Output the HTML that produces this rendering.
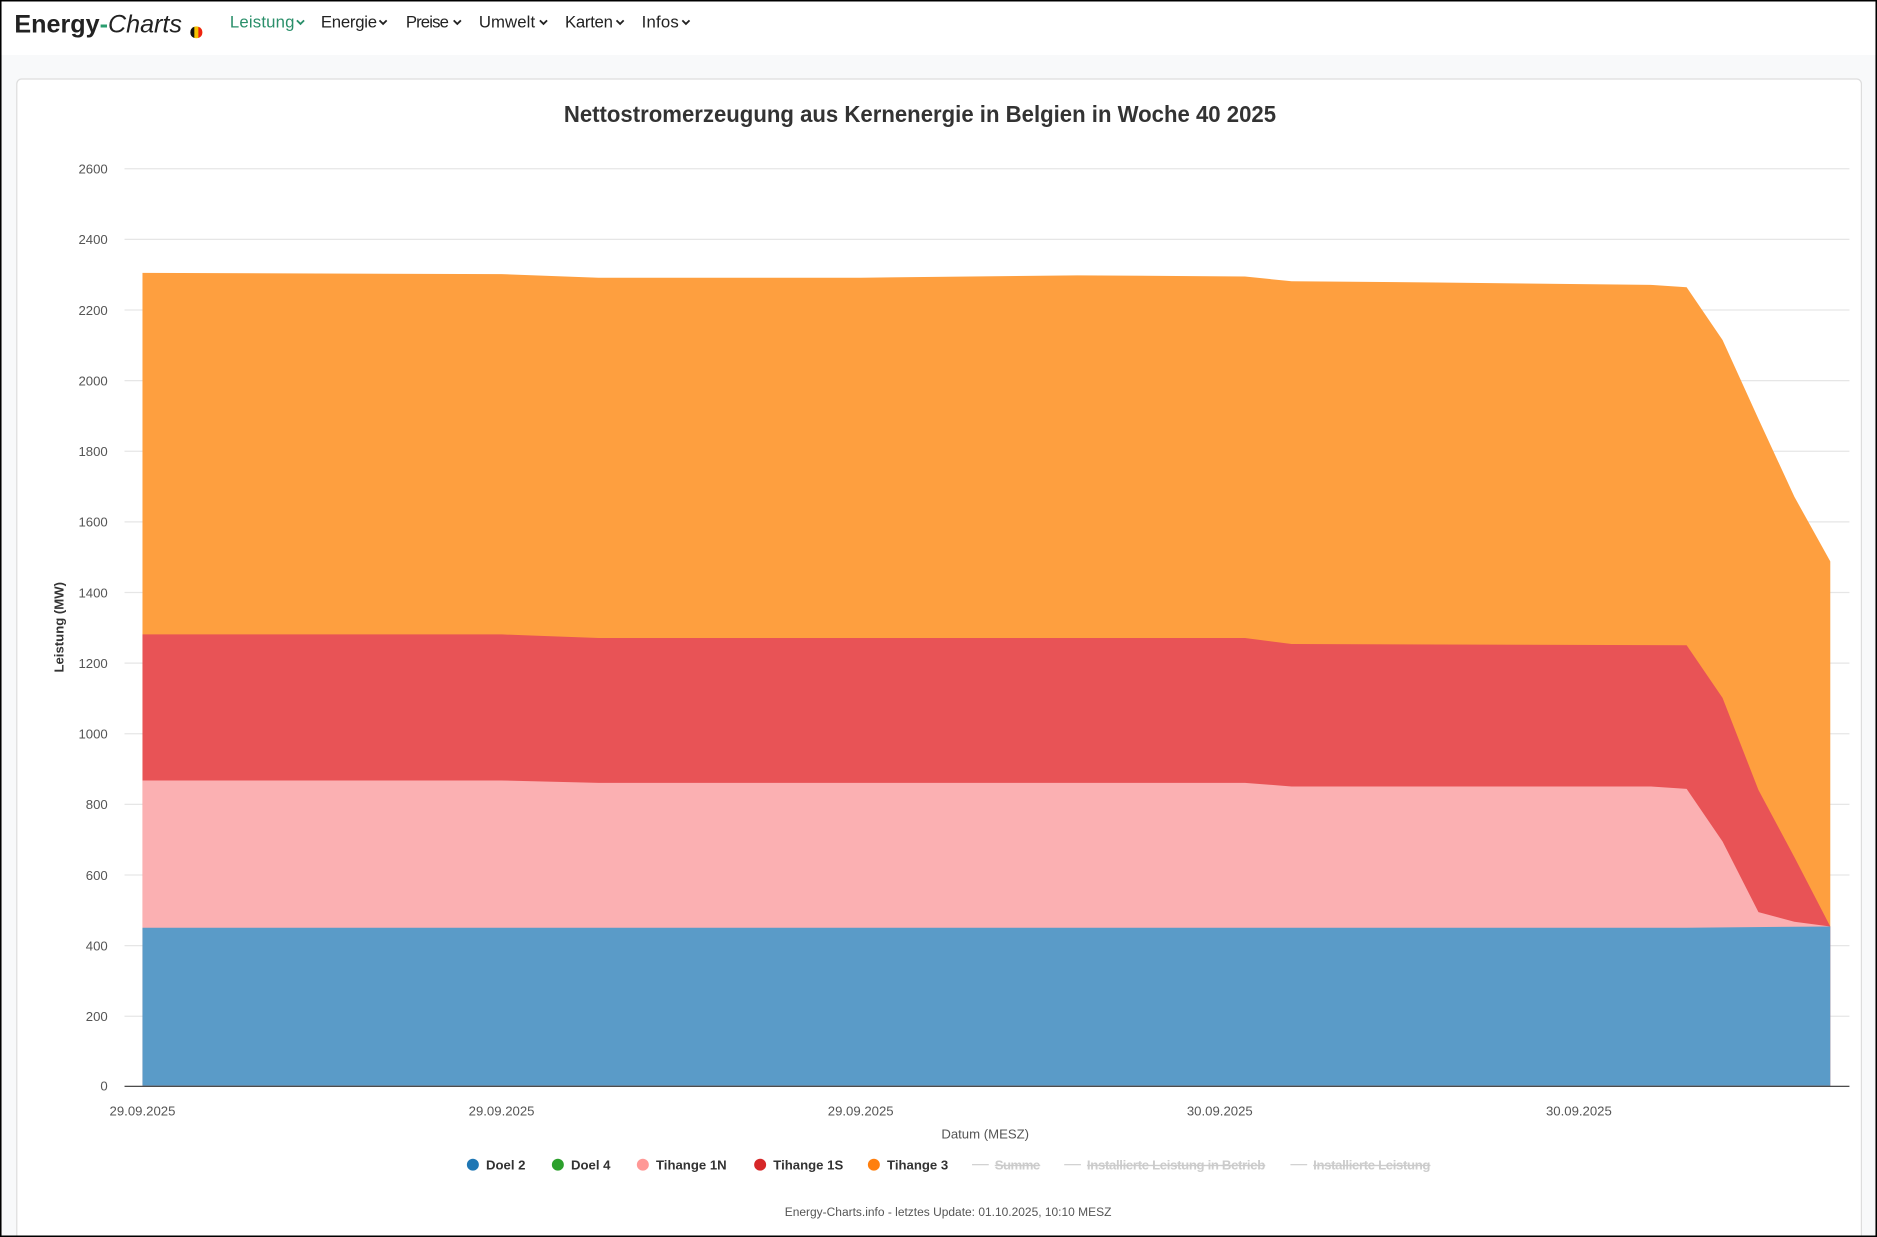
<!DOCTYPE html>
<html><head><meta charset="utf-8"><style>
html,body{margin:0;padding:0;background:#fff}
svg{display:block}
text{font-family:"Liberation Sans",sans-serif}
</style></head><body>
<svg width="1877" height="1237" viewBox="0 0 1568 1033.4" xmlns="http://www.w3.org/2000/svg">
<rect x="0" y="0" width="1568" height="1033.4" fill="#f8f9fa"/>
<rect x="0" y="0" width="1568" height="46" fill="#fff"/>
<text x="12" y="27" font-size="21" font-weight="bold" fill="#222">Energy<tspan fill="#2a9d6f">-</tspan><tspan font-weight="normal" font-style="italic">Charts</tspan></text>
<circle cx="164" cy="27" r="5" fill="#f5c400"/><path d="M159 27a5 5 0 0 1 3.3-4.7v9.4A5 5 0 0 1 159 27z" fill="#111"/><path d="M169 27a5 5 0 0 1-3.3 4.7v-9.4A5 5 0 0 1 169 27z" fill="#e21"/>
<g font-size="14" fill="#222">
<text x="192" y="23" fill="#2a8f6a" textLength="54">Leistung</text>
<text x="268" y="23" textLength="47">Energie</text>
<text x="339" y="23" textLength="36">Preise</text>
<text x="400" y="23" textLength="47">Umwelt</text>
<text x="472" y="23" textLength="40">Karten</text>
<text x="536" y="23" textLength="31">Infos</text>
</g>
<g fill="none" stroke-width="1.5">
<path d="M248 17l3 3 3-3" stroke="#2a8f6a"/><path d="M317 17l3 3 3-3" stroke="#222"/><path d="M379 17l3 3 3-3" stroke="#222"/><path d="M451 17l3 3 3-3" stroke="#222"/><path d="M515 17l3 3 3-3" stroke="#222"/><path d="M570 17l3 3 3-3" stroke="#222"/>
</g>
<rect x="14" y="66" width="1541" height="970" rx="4" fill="#fff" stroke="#ddd"/>
<text x="471" y="102" font-size="19" font-weight="bold" fill="#333" textLength="595" lengthAdjust="spacingAndGlyphs">Nettostromerzeugung aus Kernenergie in Belgien in Woche 40 2025</text>
<g stroke="#e6e6e6" stroke-width="1">
<line x1="104" x2="1545" y1="141" y2="141"/><line x1="104" x2="1545" y1="200" y2="200"/><line x1="104" x2="1545" y1="259" y2="259"/><line x1="104" x2="1545" y1="318" y2="318"/><line x1="104" x2="1545" y1="377" y2="377"/><line x1="104" x2="1545" y1="436" y2="436"/><line x1="104" x2="1545" y1="495" y2="495"/><line x1="104" x2="1545" y1="554" y2="554"/><line x1="104" x2="1545" y1="613" y2="613"/><line x1="104" x2="1545" y1="672" y2="672"/><line x1="104" x2="1545" y1="731" y2="731"/><line x1="104" x2="1545" y1="790" y2="790"/><line x1="104" x2="1545" y1="849" y2="849"/>
</g>
<g font-size="11" fill="#555" text-anchor="end">
<text x="90" y="145">2600</text><text x="90" y="204">2400</text><text x="90" y="263">2200</text><text x="90" y="322">2000</text><text x="90" y="381">1800</text><text x="90" y="440">1600</text><text x="90" y="499">1400</text><text x="90" y="558">1200</text><text x="90" y="617">1000</text><text x="90" y="676">800</text><text x="90" y="735">600</text><text x="90" y="794">400</text><text x="90" y="853">200</text><text x="90" y="911">0</text>
</g>
<text transform="translate(53,524) rotate(-90)" font-size="11" font-weight="bold" fill="#333" text-anchor="middle">Leistung (MW)</text>
<path d="M119 907L119 228L419 229L500 232L719 232L900 230L1040 231L1079 235L1200 236L1379 238L1409 240L1439 284L1469 350L1499 415L1529 469L1529 907Z" fill="#fe9f3f"/>
<path d="M119 907L119 530L419 530L500 533L719 533L1040 533L1079 538L1409 539L1439 583L1469 660L1499 716L1529 774L1529 907Z" fill="#e85356"/>
<path d="M119 907L119 652L419 652L500 654L1040 654L1079 657L1379 657L1409 659L1439 703L1469 762L1499 770L1529 774L1529 907Z" fill="#fbb0b2"/>
<path d="M119 907L119 775L1409 775L1529 774L1529 907Z" fill="#5a9bc8"/>
<line x1="104" x2="1545" y1="907.5" y2="907.5" stroke="#333" stroke-width="1"/>
<g font-size="11" fill="#555" text-anchor="middle">
<text x="119" y="932">29.09.2025</text><text x="419" y="932">29.09.2025</text><text x="719" y="932">29.09.2025</text><text x="1019" y="932">30.09.2025</text><text x="1319" y="932">30.09.2025</text>
</g>
<text x="823" y="951" font-size="11" fill="#555" text-anchor="middle">Datum (MESZ)</text>
<g font-size="11" font-weight="bold">
<circle cx="395" cy="973" r="5" fill="#1f77b4"/><text x="406" y="977" fill="#333">Doel 2</text>
<circle cx="466" cy="973" r="5" fill="#2ca02c"/><text x="477" y="977" fill="#333">Doel 4</text>
<circle cx="537" cy="973" r="5" fill="#ff9896"/><text x="548" y="977" fill="#333">Tihange 1N</text>
<circle cx="635" cy="973" r="5" fill="#d62728"/><text x="646" y="977" fill="#333">Tihange 1S</text>
<circle cx="730" cy="973" r="5" fill="#ff7f0e"/><text x="741" y="977" fill="#333">Tihange 3</text>
<g fill="#ccc" stroke="#ccc"><line x1="812" x2="826" y1="973" y2="973"/><text x="831" y="977" stroke="none" text-decoration="line-through" textLength="38">Summe</text>
<line x1="889" x2="903" y1="973" y2="973"/><text x="908" y="977" stroke="none" text-decoration="line-through" textLength="149">Installierte Leistung in Betrieb</text>
<line x1="1078" x2="1092" y1="973" y2="973"/><text x="1097" y="977" stroke="none" text-decoration="line-through" textLength="98">Installierte Leistung</text></g>
</g>
<text x="792" y="1016" font-size="10" fill="#555" text-anchor="middle">Energy-Charts.info - letztes Update: 01.10.2025, 10:10 MESZ</text>
<rect x="0.5" y="0.5" width="1567" height="1032.4" fill="none" stroke="#000" stroke-width="1.5"/>
</svg>
</body></html>
